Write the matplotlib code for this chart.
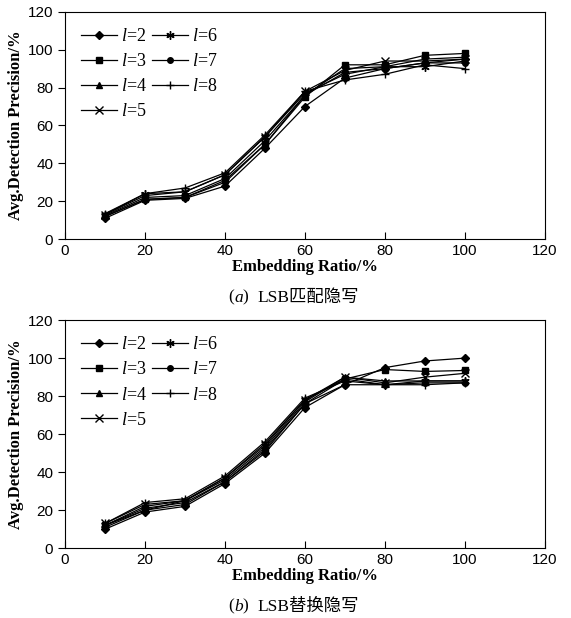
import matplotlib.pyplot as plt

# data
ratio = [10, 20, 30, 40, 50, 60, 70, 80, 90, 100]
labels = ['$l$=2', '$l$=3', '$l$=4', '$l$=5', '$l$=6', '$l$=7', '$l$=8']
markers = ['D', 's', '^', 'x', (6, 2, 0), 'o', '+']

# (a) LSB匹配隐写
match_l2 = [11, 20.5, 21.5, 28, 48, 70, 85, 90, 93, 95]
match_l3 = [12, 21, 22, 31, 50, 75, 92, 92, 97, 98]
match_l4 = [12.5, 22, 23, 32, 52, 76, 90, 91, 95, 96]
match_l5 = [13, 23, 25, 34, 54, 78, 89, 94, 94, 95]
match_l6 = [13, 24, 25, 34, 54, 77, 87, 91, 91, 94]
match_l7 = [12, 21, 22, 30, 50, 76, 88, 90, 93, 93]
match_l8 = [13.5, 24, 27, 35, 55, 78, 84, 87, 92, 90]

# (b) LSB替换隐写
repl_l2 = [10, 19, 22, 34, 50, 74, 86, 95, 98.5, 100]
repl_l3 = [12, 21, 24, 35, 51, 76, 89, 94, 93, 93.5]
repl_l4 = [12, 22, 25, 36, 53, 77, 90, 88, 88, 88]
repl_l5 = [13, 23, 25, 37, 55, 78, 90, 87, 90, 92]
repl_l6 = [12, 20, 25, 37, 54, 78, 89, 86, 88, 88]
repl_l7 = [11, 20, 23, 35, 52, 76, 86, 86, 87, 87]
repl_l8 = [13, 24, 26, 38, 56, 79, 88, 86, 86, 87]

match_all = [match_l2, match_l3, match_l4, match_l5, match_l6, match_l7, match_l8]
repl_all = [repl_l2, repl_l3, repl_l4, repl_l5, repl_l6, repl_l7, repl_l8]

serif = ['Liberation Serif', 'Noto Sans CJK SC']
plt.rcParams['mathtext.fontset'] = 'custom'
plt.rcParams['mathtext.it'] = 'Liberation Serif:italic'
plt.rcParams['mathtext.rm'] = 'Liberation Serif'

fig = plt.figure(figsize=(5.71, 6.18), dpi=100)
ax1 = fig.add_axes([0.114, 0.613, 0.840, 0.368])
ax2 = fig.add_axes([0.114, 0.113, 0.840, 0.369])


def caption(letter, text, y):
    # "(a)  LSB匹配隐写" with italic letter, built from pieces
    t1 = fig.text(0.400, y, '(', ha='left', va='baseline', family=serif,
                  fontsize=12.5)
    t2 = plt.annotate(letter, xy=(1, 0), xycoords=t1, ha='left', va='bottom',
                      family=serif, fontsize=12.5, style='italic')
    t3 = plt.annotate(')  ', xy=(1, 0), xycoords=t2, ha='left', va='bottom',
                      family=serif, fontsize=12.5)
    plt.annotate(text, xy=(1, 0), xycoords=t3, ha='left', va='bottom',
                 family=serif, fontsize=12.5)


def draw(ax, series):
    for ys, lab, mk in zip(series, labels, markers):
        ms = 4 if mk in ('D', 's', '^', 'o') else 6
        ax.plot(ratio, ys, color='black', lw=0.9, marker=mk, ms=ms,
                mew=1.0, label=lab)
    ax.set_xlim(0, 120)
    ax.set_ylim(0, 120)
    ax.set_xticks(range(0, 121, 20))
    ax.set_yticks(range(0, 121, 20))
    ax.tick_params(axis='x', direction='in', length=5, labelsize=11)
    ax.tick_params(axis='y', direction='out', length=5, labelsize=11)
    for t in ax.get_xticklabels() + ax.get_yticklabels():
        t.set_family('Liberation Sans')
    ax.set_xlabel('Embedding Ratio/%', family=serif, fontsize=12,
                  fontweight='bold', labelpad=1)
    ax.set_ylabel('Avg.Detection Precision/%', family=serif, fontsize=12,
                  fontweight='bold', labelpad=3)
    ax.legend(loc='upper left', ncol=2, frameon=False,
              handlelength=2.0, handletextpad=0.2, columnspacing=0.3,
              labelspacing=0.45, borderaxespad=0.5,
              prop={'family': 'Liberation Serif', 'size': 13})


draw(ax1, match_all)
draw(ax2, repl_all)
caption('a', 'LSB匹配隐写', 0.512)
caption('b', 'LSB替换隐写', 0.012)

plt.savefig('out.png', dpi=100)
